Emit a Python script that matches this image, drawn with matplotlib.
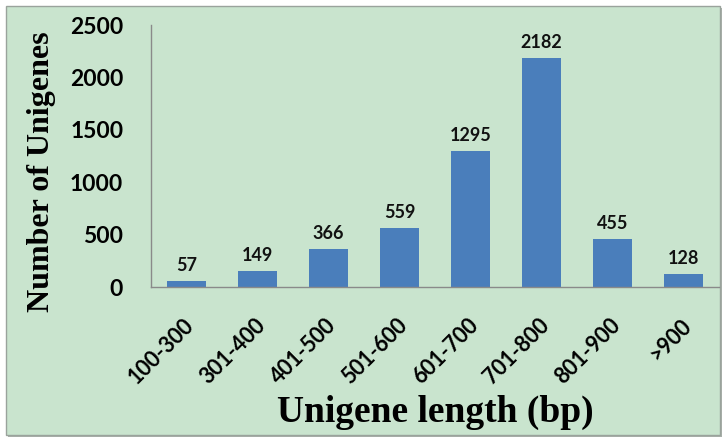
import matplotlib
matplotlib.use("Agg")
import matplotlib.pyplot as plt
import matplotlib.transforms as mtransforms
from matplotlib.patches import Rectangle

categories = ["100-300", "301-400", "401-500", "501-600", "601-700", "701-800", "801-900", ">900"]
counts = [57, 149, 366, 559, 1295, 2182, 455, 128]
y_ticks = [0, 500, 1000, 1500, 2000, 2500]

W, H = 728, 443
fig = plt.figure(figsize=(W / 100, H / 100), dpi=100)
fig.patch.set_facecolor("white")

# panel background with shadow
fig.patches.append(Rectangle((8 / W, 1 - 437 / H), 714 / W, 429 / H, transform=fig.transFigure,
                             facecolor="#a9b0aa", edgecolor="none", zorder=-10))
fig.patches.append(Rectangle((6 / W, 1 - 435 / H), 714 / W, 429 / H, transform=fig.transFigure,
                             facecolor="#c9e4ce", edgecolor="#9aa39c", linewidth=1.0, zorder=-9))

left, right, top, bottom = 151, 719, 25, 287
ax = fig.add_axes([left / W, 1 - bottom / H, (right - left) / W, (bottom - top) / H])
ax.set_facecolor("none")
ax.set_zorder(1)

x = list(range(len(categories)))
bars = ax.bar(x, counts, width=0.56, color="#4a7ebb", zorder=2)
ax.set_xlim(-0.5, len(categories) - 0.5)
ax.set_ylim(0, 2500)

for xi, v in zip(x, counts):
    ax.annotate(str(v), (xi, v), xytext=(0, 5), textcoords="offset points",
                ha="center", va="bottom", fontsize=13, fontweight="bold",
                family="Lato", color="#111111")

ax.set_yticks(y_ticks)
ax.set_yticklabels([str(t) for t in y_ticks], fontsize=16.5, fontweight="bold", family="Lato")
ax.set_xticks(x)
ax.set_xticklabels(categories, rotation=45, ha="right", rotation_mode="anchor",
                   fontsize=15.5, fontweight="bold", family="Lato")
ax.tick_params(axis="y", length=0, pad=20)
ax.tick_params(axis="x", length=0, pad=20)
shift = mtransforms.ScaledTranslation(-3 / 100, 0, fig.dpi_scale_trans)
for lbl in ax.get_xticklabels():
    lbl.set_transform(lbl.get_transform() + shift)

for s in ["top", "right"]:
    ax.spines[s].set_visible(False)
for s in ["left", "bottom"]:
    ax.spines[s].set_color("#8a8a8a")
    ax.spines[s].set_linewidth(1.0)

fig.text(435 / W, 1 - 412 / H, "Unigene length (bp)", ha="center", va="center",
         fontsize=27, fontweight="bold", family="Liberation Serif")
fig.text(42 / W, 1 - 172 / H, "Number of Unigenes", ha="center", va="center", rotation=90,
         fontsize=23, fontweight="bold", family="Liberation Serif")

fig.savefig("out.png", dpi=100, facecolor=fig.get_facecolor())
